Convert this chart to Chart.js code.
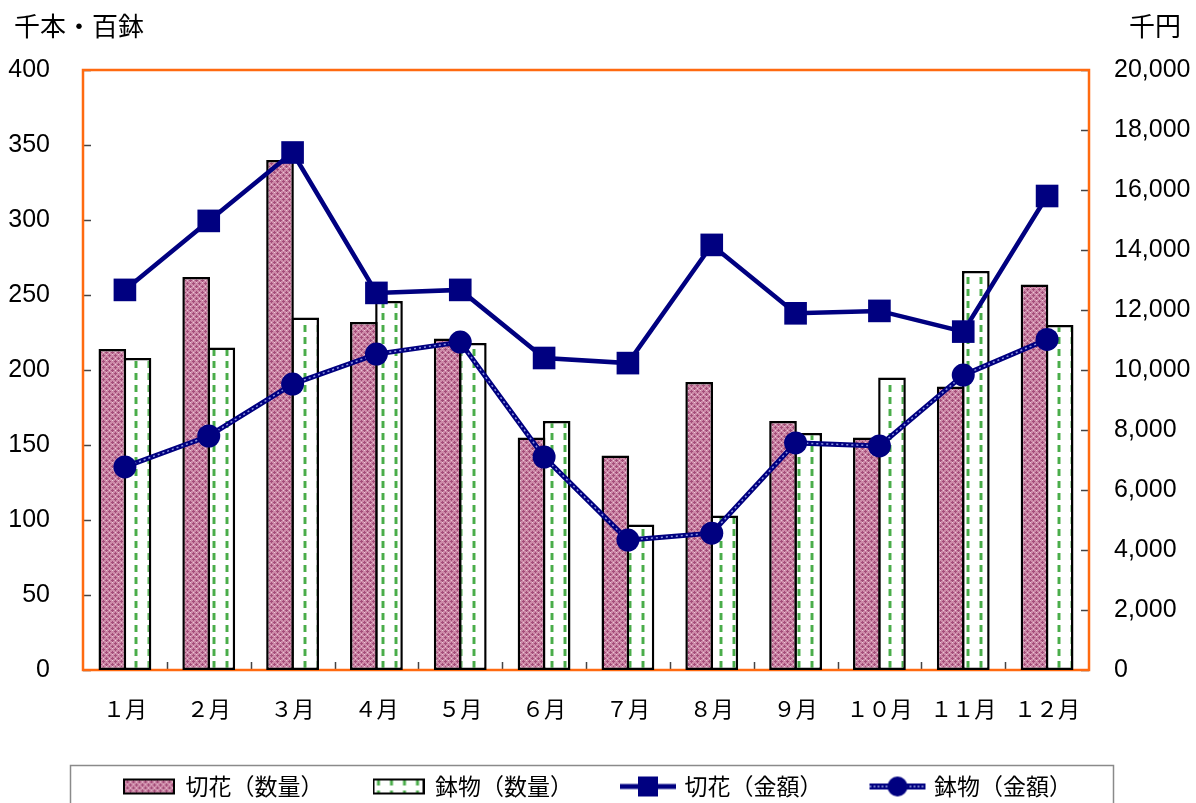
<!DOCTYPE html>
<html>
<head>
<meta charset="utf-8">
<script src="https://cdn.jsdelivr.net/npm/chart.js@4.4.1/dist/chart.umd.min.js"></script>
<style>
    html, body { margin: 0; padding: 0; background: #fff; overflow: hidden; }
    #wrap { width: 1196px; height: 803px; position: relative; }
</style>
</head>
<body>
<div id="wrap"><canvas id="monthChart"></canvas></div>
<script>
(function() {
    "use strict";

    // data
    const months = ['１月','２月','３月','４月','５月','６月','７月','８月','９月','１０月','１１月','１２月'];
    const cutQty = [214, 262, 340, 232, 221, 155, 143, 192, 166, 155, 189, 257];
    const potQty = [208, 215, 235, 246, 218, 166, 97, 103, 158, 195, 266, 230];
    const cutAmt = [12670, 14970, 17250, 12570, 12670, 10400, 10230, 14170, 11890, 11970, 11280, 15800];
    const potAmt = [6770, 7800, 9530, 10530, 10930, 7100, 4330, 4560, 7570, 7470, 9830, 11020];
    const seriesNames = ['切花（数量）', '鉢物（数量）', '切花（金額）', '鉢物（金額）'];
    const qtyAxis = { max: 400, step: 50 };
    const amtAxis = { max: 20000, step: 2000 };

    const NAVY = '#000080';
    const ORANGE = '#ff6a10';
    const JP = "'Noto Sans CJK JP', 'Noto Sans', sans-serif";
    const NUM = "'Liberation Sans', Arial, sans-serif";

    function mk(w, h) {
        const c = document.createElement('canvas');
        c.width = w; c.height = h;
        return c;
    }

    // pink cross-hatch tile for 切花
    const pinkTile = mk(6, 6);
    (function(g) {
        g.fillStyle = '#cd8aa8';
        g.fillRect(0, 0, 6, 6);
        g.fillStyle = '#a34d79';
        g.fillRect(0, 1, 3, 1); g.fillRect(1, 0, 1, 3);
        g.fillRect(3, 4, 3, 1); g.fillRect(4, 3, 1, 3);
        g.fillStyle = '#ebc8d8';
        g.fillRect(4, 0, 1, 1); g.fillRect(1, 4, 1, 1);
    })(pinkTile.getContext('2d'));

    // white tile with green dashes for 鉢物
    const greenTile = mk(13, 12);
    (function(g) {
        g.fillStyle = '#ffffff';
        g.fillRect(0, 0, 13, 12);
        g.fillStyle = '#4aad4a';
        g.fillRect(5, 1, 2, 7);
        g.fillStyle = '#a8d8a8';
        g.fillRect(4, 1, 1, 7);
        g.fillRect(7, 1, 1, 7);
    })(greenTile.getContext('2d'));

    const pg = document.createElement('canvas').getContext('2d');
    const pinkFill = pg.createPattern(pinkTile, 'repeat');
    const greenFill = pg.createPattern(greenTile, 'repeat');

    // legend icons
    function barIcon(fill) {
        const c = mk(52, 18), g = c.getContext('2d');
        g.fillStyle = fill;
        g.fillRect(1, 1, 50, 16);
        g.strokeStyle = '#000';
        g.lineWidth = 2;
        g.strokeRect(1, 2, 50, 14);
        return c;
    }
    function lineIcon(kind) {
        const c = mk(58, 26), g = c.getContext('2d');
        g.strokeStyle = NAVY;
        g.lineWidth = kind === 'rect' ? 5 : 6;
        g.beginPath(); g.moveTo(1, 13); g.lineTo(57, 13); g.stroke();
        g.fillStyle = NAVY;
        if (kind === 'rect') {
            g.fillRect(19, 3, 20, 20);
        } else {
            g.strokeStyle = 'rgba(170,180,240,0.9)';
            g.lineWidth = 1.5;
            g.setLineDash([2, 2]);
            g.beginPath(); g.moveTo(1, 13); g.lineTo(57, 13); g.stroke();
            g.beginPath(); g.arc(29, 13, 10, 0, Math.PI * 2); g.fill();
        }
        return c;
    }
    const icons = [barIcon(pinkFill), barIcon(greenFill), lineIcon('rect'), lineIcon('circle')];

    // frame, inward tick marks, unit labels, legend border
    const decor = {
        id: 'decor',
        beforeDatasetsDraw(chart) {
            const { ctx, chartArea: a, scales } = chart;
            ctx.save();
            ctx.strokeStyle = '#444';
            ctx.lineWidth = 1.5;
            ctx.beginPath();
            scales.y.ticks.forEach(t => {
                const py = Math.round(scales.y.getPixelForValue(t.value)) + 0.5;
                ctx.moveTo(a.left, py); ctx.lineTo(a.left + 8, py);
            });
            scales.y1.ticks.forEach(t => {
                const py = Math.round(scales.y1.getPixelForValue(t.value)) + 0.5;
                ctx.moveTo(a.right, py); ctx.lineTo(a.right - 8, py);
            });
            for (let i = 0; i < months.length - 1; i++) {
                const px = Math.round((scales.x.getPixelForValue(i) + scales.x.getPixelForValue(i + 1)) / 2) + 0.5;
                ctx.moveTo(px, a.bottom); ctx.lineTo(px, a.bottom - 8);
            }
            ctx.stroke();
            ctx.strokeStyle = ORANGE;
            ctx.lineWidth = 2.5;
            ctx.strokeRect(a.left, a.top, a.right - a.left, a.bottom - a.top);
            ctx.restore();
        },
        afterDraw(chart) {
            const { ctx } = chart;
            ctx.save();
            ctx.fillStyle = '#000';
            ctx.textBaseline = 'middle';
            ctx.font = '26px ' + JP;
            ctx.textAlign = 'left';
            ctx.fillText('千本・百鉢', 14, 26);
            ctx.textAlign = 'right';
            ctx.fillText('千円', 1181, 26);
            const hb = chart.legend.legendHitBoxes;
            if (hb && hb.length) {
                ctx.strokeStyle = '#8a8a8a';
                ctx.lineWidth = 1.5;
                const top = Math.round(hb[0].top) - 9.5;
                ctx.strokeRect(70.5, top, 1043, 80);
            }
            ctx.restore();
        }
    };

    document.addEventListener("DOMContentLoaded", () => {
        const c1 = document.getElementById('monthChart');
        Chart.defaults.font.family = NUM;
        Chart.defaults.color = '#000';

        new Chart(c1, {
            type: 'bar',
            data: {
                labels: months,
                datasets: [
                    {
                        label: seriesNames[0],
                        data: cutQty,
                        yAxisID: 'y',
                        backgroundColor: pinkFill,
                        borderColor: '#000',
                        borderWidth: 2.5,
                        borderSkipped: false,
                        categoryPercentage: 0.6,
                        barPercentage: 1.1,
                        order: 10
                    },
                    {
                        label: seriesNames[1],
                        data: potQty,
                        yAxisID: 'y',
                        backgroundColor: greenFill,
                        borderColor: '#000',
                        borderWidth: 2.5,
                        borderSkipped: false,
                        categoryPercentage: 0.6,
                        barPercentage: 1.1,
                        order: 10
                    },
                    {
                        type: 'line',
                        label: seriesNames[2],
                        data: cutAmt,
                        yAxisID: 'y1',
                        borderColor: NAVY,
                        backgroundColor: NAVY,
                        borderWidth: 4.5,
                        tension: 0,
                        pointStyle: 'rect',
                        pointRadius: 16,
                        pointBorderWidth: 0,
                        order: 2
                    },
                    {
                        type: 'line',
                        label: seriesNames[3],
                        data: potAmt,
                        yAxisID: 'y1',
                        borderColor: NAVY,
                        backgroundColor: NAVY,
                        borderWidth: 5,
                        tension: 0,
                        pointRadius: 0,
                        order: 4
                    },
                    {
                        type: 'line',
                        label: '',
                        data: potAmt,
                        yAxisID: 'y1',
                        borderColor: 'rgba(165,175,240,0.85)',
                        borderWidth: 1.5,
                        borderDash: [2, 3],
                        tension: 0,
                        pointStyle: 'circle',
                        pointRadius: 11.5,
                        pointBackgroundColor: NAVY,
                        pointBorderWidth: 0,
                        order: 3
                    }
                ]
            },
            options: {
                responsive: true,
                maintainAspectRatio: false,
                animation: false,
                layout: { padding: { top: 70, left: 0, right: 0, bottom: -5 } },
                plugins: {
                    tooltip: { enabled: false },
                    legend: {
                        position: 'bottom',
                        labels: {
                            font: { size: 23, family: JP },
                            color: '#000',
                            padding: 50,
                            usePointStyle: true,
                            pointStyleWidth: 50,
                            generateLabels: () => seriesNames.map((name, i) => ({
                                text: name,
                                pointStyle: icons[i],
                                datasetIndex: i,
                                fontColor: '#000',
                                hidden: false,
                                lineWidth: 0
                            }))
                        }
                    }
                },
                scales: {
                    x: {
                        grid: { display: false },
                        border: { display: false },
                        ticks: { font: { size: 22, family: JP }, padding: 17, maxRotation: 0 },
                        afterFit: s => { s.height = 55; }
                    },
                    y: {
                        position: 'left',
                        min: 0,
                        max: qtyAxis.max,
                        grid: { display: false },
                        border: { display: false },
                        ticks: { stepSize: qtyAxis.step, font: { size: 25 }, padding: 25 },
                        afterFit: s => { s.width = 83; }
                    },
                    y1: {
                        position: 'right',
                        min: 0,
                        max: amtAxis.max,
                        grid: { display: false },
                        border: { display: false },
                        ticks: {
                            stepSize: amtAxis.step,
                            font: { size: 25 },
                            padding: 17,
                            callback: v => v.toLocaleString('en-US')
                        },
                        afterFit: s => { s.width = 107; }
                    }
                }
            },
            plugins: [decor]
        });
    });
})();
</script>
</body>
</html>
